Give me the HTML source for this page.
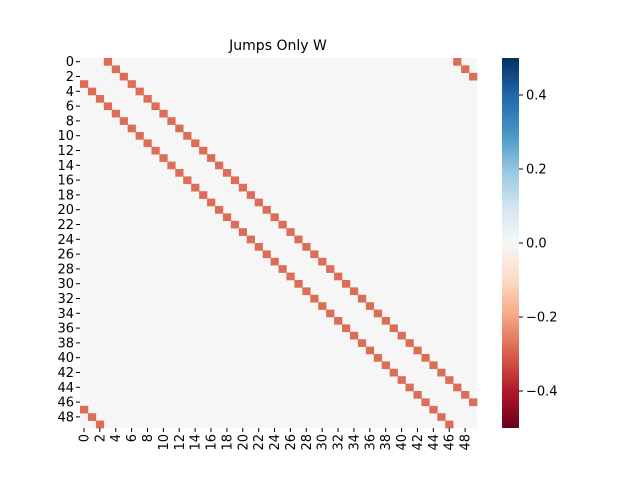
<!DOCTYPE html>
<html><head><meta charset="utf-8"><style>body{margin:0;background:#fff}svg{font-family:"DejaVu Sans","Liberation Sans",sans-serif}</style></head>
<body>
<svg id="c" width="640" height="480" xmlns="http://www.w3.org/2000/svg">
<defs><linearGradient id="g" x1="0" y1="1" x2="0" y2="0">
<stop offset="0" stop-color="#67001f"/><stop offset="0.1" stop-color="#b2182b"/><stop offset="0.2" stop-color="#d6604d"/><stop offset="0.3" stop-color="#f4a582"/><stop offset="0.4" stop-color="#fddbc7"/><stop offset="0.5" stop-color="#f7f7f7"/><stop offset="0.6" stop-color="#d1e5f0"/><stop offset="0.7" stop-color="#92c5de"/><stop offset="0.8" stop-color="#4393c3"/><stop offset="0.9" stop-color="#2166ac"/><stop offset="1" stop-color="#053061"/></linearGradient></defs>
<text x="278" y="50" font-size="14" text-anchor="middle">Jumps Only W</text>
<g id="cells"></g><g id="ticks"></g>
<rect x="502" y="58" width="17" height="370" fill="url(#g)"/>
<g id="cb"></g>
</svg>
<script>
const N = 50;
const offsets = [3, -3];
const jumpValue = -0.28;
const cbTicks = [0.4, 0.2, 0.0, -0.2, -0.4];
const ns = "http://www.w3.org/2000/svg";
const X0 = 80, Y0 = 58, W = 397, H = 370;
const cw = W / N, ch = H / N;
const xs = i => X0 + i * cw, ys = i => Y0 + i * ch;
const cbY = v => 58 + (0.5 - v) / 1.0 * 370;
function col(v){const t=(v+0.5);const st=[[103,0,31],[178,24,43],[214,96,77],[244,165,130],[253,219,199],[247,247,247],[209,229,240],[146,197,222],[67,147,195],[33,102,172],[5,48,97]];const p=Math.max(0,Math.min(1,t))*10,k=Math.min(9,Math.floor(p)),f=p-k;const c=st[k].map((a,j)=>Math.round(a+(st[k+1][j]-a)*f));return`rgb(${c})`;}
function mk(tag, at, parent){const e=document.createElementNS(ns,tag);for(const k in at)e.setAttribute(k,at[k]);document.getElementById(parent).appendChild(e);return e;}
const bg = mk('rect',{x:X0,y:Y0,width:W,height:H,fill:'#f5f6f5'},'cells');


for(let r=0;r<N;r++){for(const o of offsets){const c=((r+o)%N+N)%N;
 const e=mk('rect',{x:xs(c),y:ys(r),width:cw+0.3,height:ch+0.3,fill:col(jumpValue)},'cells');
 
 }}
for(let i=0;i<N;i+=2){
 const yc=ys(i)+ch/2;
 mk('line',{x1:X0-4,x2:X0,y1:yc,y2:yc,stroke:'#000'},'ticks');
 const t=mk('text',{x:X0-6,y:yc+4.5,'font-size':13,'text-anchor':'end'},'ticks');t.textContent=i;
 
 
 const xc=xs(i)+cw/2;
 mk('line',{x1:xc,x2:xc,y1:Y0+H,y2:Y0+H+4,stroke:'#000'},'ticks');
 const u=mk('text',{x:0,y:0,'font-size':13,'text-anchor':'end',transform:`translate(${xc+4.5},${Y0+H+6}) rotate(-90)`},'ticks');u.textContent=i;
 
 }
for(const v of cbTicks){const y=cbY(v);
 mk('line',{x1:519,x2:523,y1:y,y2:y,stroke:'#000'},'cb');
 const t=mk('text',{x:526,y:y+4.5,'font-size':13},'cb');t.textContent=(v<0?'\u2212':'')+Math.abs(v).toFixed(1);
 
 }
</script>
</body></html>
